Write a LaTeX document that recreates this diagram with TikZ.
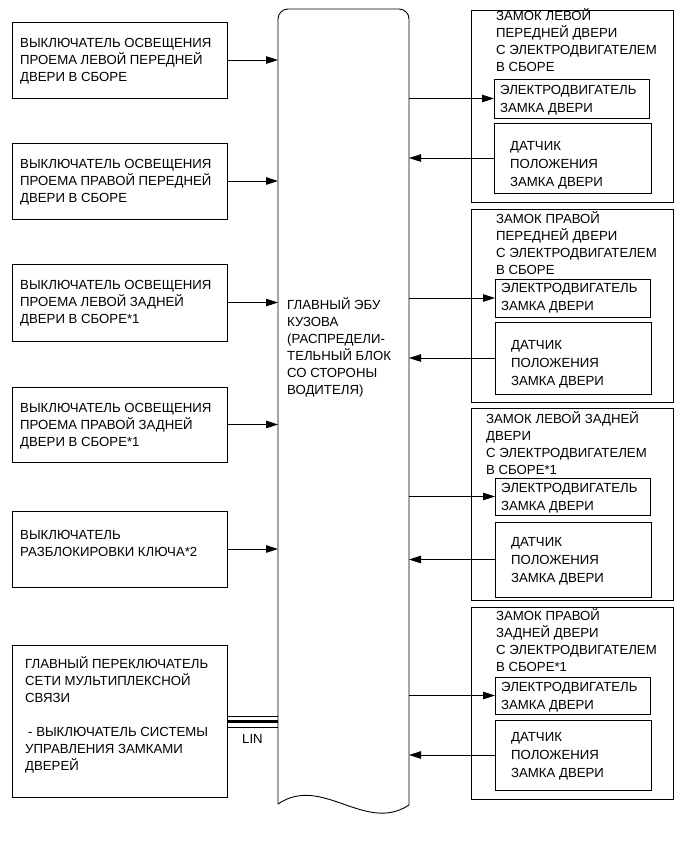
\documentclass[tikz,border=0pt]{standalone}
\usepackage{fontspec}
\setmainfont{Liberation Sans}
\usetikzlibrary{arrows.meta}
\tikzset{
  box/.style={draw, line width=0.9pt, inner sep=0pt, outer sep=0pt, anchor=north west},
  txt/.style={anchor=base west, inner sep=0pt, align=left, font=\fontsize{13.2}{17}\selectfont},
  itxt/.style={anchor=base west, inner sep=0pt, align=left, font=\fontsize{13.2}{18}\selectfont},
  arr/.style={line width=0.9pt, -{Triangle[length=12pt,width=7.5pt]}},
  ln/.style={line width=0.9pt}
}
\begin{document}
\begin{tikzpicture}[x=1pt,y=-1pt]
\useasboundingbox (0,0) rectangle (691,855);
% central ECU
\node[inner sep=0pt, outer sep=0pt, minimum width=131pt, minimum height=796pt, anchor=north west] (ecu) at (278,9) {};
\draw[ln, rounded corners=10pt] (278,804) -- (278,9) -- (409,9) -- (409,805);
\draw[ln] (409,805) .. controls (365,834) and (322,774) .. (278,804);
% (base anchor = baseline of the last line)
\node[txt] (ecut) at (287,394.8) {ГЛАВНЫЙ ЭБУ\\КУЗОВА\\(РАСПРЕДЕЛИ-\\ТЕЛЬНЫЙ БЛОК\\СО СТОРОНЫ\\ВОДИТЕЛЯ)};

% left boxes
\node[box, minimum width=215pt, minimum height=76pt] (b1) at (12,22) {};
\node[txt] (t1) at (20,81.8) {ВЫКЛЮЧАТЕЛЬ ОСВЕЩЕНИЯ\\ПРОЕМА ЛЕВОЙ ПЕРЕДНЕЙ\\ДВЕРИ В СБОРЕ};
\node[box, minimum width=215pt, minimum height=76pt] (b2) at (12,143) {};
\node[txt] (t2) at (20,202.8) {ВЫКЛЮЧАТЕЛЬ ОСВЕЩЕНИЯ\\ПРОЕМА ПРАВОЙ ПЕРЕДНЕЙ\\ДВЕРИ В СБОРЕ};
\node[box, minimum width=215pt, minimum height=77pt] (b3) at (12,264) {};
\node[txt] (t3) at (20,323.5) {ВЫКЛЮЧАТЕЛЬ ОСВЕЩЕНИЯ\\ПРОЕМА ЛЕВОЙ ЗАДНЕЙ\\ДВЕРИ В СБОРЕ*1};
\node[box, minimum width=215pt, minimum height=75pt] (b4) at (12,387) {};
\node[txt] (t4) at (20,446) {ВЫКЛЮЧАТЕЛЬ ОСВЕЩЕНИЯ\\ПРОЕМА ПРАВОЙ ЗАДНЕЙ\\ДВЕРИ В СБОРЕ*1};
\node[box, minimum width=215pt, minimum height=76pt] (b5) at (12,511) {};
\node[txt] (t5) at (20,556.8) {ВЫКЛЮЧАТЕЛЬ\\РАЗБЛОКИРОВКИ КЛЮЧА*2};
\node[box, minimum width=215pt, minimum height=152pt] (b6) at (12,645) {};
\node[txt] (t6) at (25,770.8) {ГЛАВНЫЙ ПЕРЕКЛЮЧАТЕЛЬ\\СЕТИ МУЛЬТИПЛЕКСНОЙ\\СВЯЗИ\\[17pt]\hspace{3pt}- ВЫКЛЮЧАТЕЛЬ СИСТЕМЫ\\УПРАВЛЕНИЯ ЗАМКАМИ\\ДВЕРЕЙ};

\foreach \b in {b1,b2,b3,b4,b5}
  \draw[arr] (\b.east) -- (\b.east -| ecu.west);

% LIN
\draw[ln] (b6.east |- 0,716) -- (ecu.west |- 0,716);
\draw[line width=3pt] (b6.east |- 0,721.5) -- (ecu.west |- 0,721.5);
\draw[ln] (b6.east |- 0,727) -- (ecu.west |- 0,727);
\node[inner sep=0pt, font=\fontsize{13.2}{17}\selectfont] (lin) at (252.5,739) {LIN};

% right groups
% group 1
\node[box, minimum width=202pt, minimum height=192pt] (g1) at (471,10) {};
\node[txt] (g1t) at (496,71.8) {ЗАМОК ЛЕВОЙ\\ПЕРЕДНЕЙ ДВЕРИ\\С ЭЛЕКТРОДВИГАТЕЛЕМ\\В СБОРЕ};
\node[box, minimum width=155pt, minimum height=39pt] (m1) at (494,79) {};
\node[itxt] (m1t) at (500,112.8) {ЭЛЕКТРОДВИГАТЕЛЬ\\ЗАМКА ДВЕРИ};
\node[box, minimum width=157pt, minimum height=70pt] (s1) at (494,123) {};
\node[itxt] (s1t) at (510,186.8) {ДАТЧИК\\ПОЛОЖЕНИЯ\\ЗАМКА ДВЕРИ};
% group 2
\node[box, minimum width=202pt, minimum height=193pt] (g2) at (471,209) {};
\node[txt] (g2t) at (496,274.8) {ЗАМОК ПРАВОЙ\\ПЕРЕДНЕЙ ДВЕРИ\\С ЭЛЕКТРОДВИГАТЕЛЕМ\\В СБОРЕ};
\node[box, minimum width=155pt, minimum height=38pt] (m2) at (495,279) {};
\node[itxt] (m2t) at (501,310.8) {ЭЛЕКТРОДВИГАТЕЛЬ\\ЗАМКА ДВЕРИ};
\node[box, minimum width=156pt, minimum height=72pt] (s2) at (495,322) {};
\node[itxt] (s2t) at (511,385.8) {ДАТЧИК\\ПОЛОЖЕНИЯ\\ЗАМКА ДВЕРИ};
% group 3
\node[box, minimum width=202pt, minimum height=192pt] (g3) at (471,408) {};
\node[txt] (g3t) at (486,474) {ЗАМОК ЛЕВОЙ ЗАДНЕЙ\\ДВЕРИ\\С ЭЛЕКТРОДВИГАТЕЛЕМ\\В СБОРЕ*1};
\node[box, minimum width=155pt, minimum height=37pt] (m3) at (495,478) {};
\node[itxt] (m3t) at (501,510.8) {ЭЛЕКТРОДВИГАТЕЛЬ\\ЗАМКА ДВЕРИ};
\node[box, minimum width=156pt, minimum height=75pt] (s3) at (495,522) {};
\node[itxt] (s3t) at (511,582.8) {ДАТЧИК\\ПОЛОЖЕНИЯ\\ЗАМКА ДВЕРИ};
% group 4
\node[box, minimum width=202pt, minimum height=192pt] (g4) at (471,607) {};
\node[txt] (g4t) at (496,671) {ЗАМОК ПРАВОЙ\\ЗАДНЕЙ ДВЕРИ\\С ЭЛЕКТРОДВИГАТЕЛЕМ\\В СБОРЕ*1};
\node[box, minimum width=155pt, minimum height=37pt] (m4) at (495,677) {};
\node[itxt] (m4t) at (501,709.8) {ЭЛЕКТРОДВИГАТЕЛЬ\\ЗАМКА ДВЕРИ};
\node[box, minimum width=156pt, minimum height=70pt] (s4) at (495,720) {};
\node[itxt] (s4t) at (511,777.8) {ДАТЧИК\\ПОЛОЖЕНИЯ\\ЗАМКА ДВЕРИ};

\foreach \i in {1,2,3,4}{
  \draw[arr] (ecu.east |- m\i.west) -- (m\i.west);
  \draw[arr] (s\i.west) -- (s\i.west -| ecu.east);
}
\end{tikzpicture}
\end{document}
